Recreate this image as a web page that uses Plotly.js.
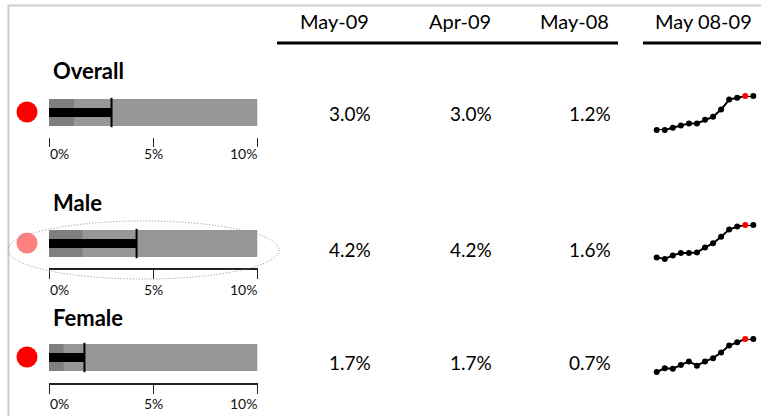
<!DOCTYPE html>
<html>
<head>
<meta charset="utf-8">
<script src="https://cdn.plot.ly/plotly-3.0.1.min.js"></script>
<style>html,body{margin:0;padding:0;background:#fff;}#chart{width:761px;height:416px;}</style>
</head>
<body>
<div id="chart"></div>
<script>
// ---- data ----
const groups = ['Overall', 'Male', 'Female'];
const headers = ['May-09', 'Apr-09', 'May-08', 'May 08-09'];
const may09 = [3.0, 4.2, 1.7];
const apr09 = [3.0, 4.2, 1.7];
const may08 = [1.2, 1.6, 0.7];
const statusColors = ['#ff0000', '#ff8080', '#ff0000'];
const months = ['May-08','Jun-08','Jul-08','Aug-08','Sep-08','Oct-08','Nov-08','Dec-08','Jan-09','Feb-09','Mar-09','Apr-09','May-09'];
const overallTrend = [1.2, 1.2, 1.32, 1.44, 1.55, 1.55, 1.74, 1.90, 2.28, 2.81, 2.91, 3.0, 3.0];
const maleTrend    = [1.6, 1.47, 1.76, 1.95, 1.95, 2.0, 2.4, 2.73, 3.26, 3.83, 4.07, 4.2, 4.2];
const femaleTrend  = [0.7, 0.81, 0.80, 0.91, 1.02, 0.89, 1.02, 1.12, 1.29, 1.50, 1.60, 1.7, 1.7];
const trends = [overallTrend, maleTrend, femaleTrend];
const bulletMax = 10;
const bulletTicks = [0, 5, 10];
const bulletTickLabels = ['0%', '5%', '10%'];
const highlightMonth = 'Apr-09';

// ---- layout geometry (pixels) ----
const W = 761, H = 416;
const px = v => v / W;
const py = v => 1 - v / H;
const FONT = 'Lato, "Noto Sans", sans-serif';

const barTop = [99, 230, 344];
const barBot = [126, 257, 371];
const tickTop = [137, 269, 384];
const tickLabelY = [153, 289, 403];
const titleY = [71, 202, 317];
const numY = [113, 249, 362];
const sparkTop = [96, 225, 339];
const sparkBot = [130, 259, 372];
const showAxisLine = [false, true, true];
const colRight = [373, 494, 613];
const headerRight = [371, 493, 611, 754];

const traces = [];
const layout = {
  width: W, height: H,
  margin: {l: 0, r: 0, t: 0, b: 0},
  paper_bgcolor: '#fff', plot_bgcolor: 'rgba(0,0,0,0)',
  showlegend: false,
  barmode: 'overlay',
  font: {family: FONT, color: '#000'},
  annotations: [],
  shapes: []
};

// status indicator column axis
layout.xaxis7 = {domain: [px(16), px(38)], range: [-1, 1], anchor: 'y', visible: false, fixedrange: true};

groups.forEach((g, i) => {
  const n = i + 1;
  const xa = n === 1 ? 'x' : 'x' + n;
  const ya = n === 1 ? 'y' : 'y' + n;
  const xKey = n === 1 ? 'xaxis' : 'xaxis' + n;
  const yKey = n === 1 ? 'yaxis' : 'yaxis' + n;
  // background qualitative range
  traces.push({type: 'bar', orientation: 'h', x: [bulletMax], y: [0], width: 1, xaxis: xa, yaxis: ya,
    marker: {color: '#979797', line: {width: 0}}, hoverinfo: 'skip'});
  // last-year band
  traces.push({type: 'bar', orientation: 'h', x: [may08[i]], y: [0], width: 1, xaxis: xa, yaxis: ya,
    marker: {color: '#7f7f7f', line: {width: 0}}, hoverinfo: 'skip'});
  // current measure
  traces.push({type: 'bar', orientation: 'h', x: [may09[i]], y: [0], width: 0.34, xaxis: xa, yaxis: ya,
    marker: {color: '#000', line: {width: 0}}, hoverinfo: 'skip'});
  // target (previous month)
  traces.push({type: 'scatter', mode: 'markers', x: [apr09[i]], y: [0], xaxis: xa, yaxis: ya, cliponaxis: false,
    marker: {symbol: 'line-ns', size: 21, line: {width: 2, color: '#000'}}, hoverinfo: 'skip'});
  // status indicator
  traces.push({type: 'scatter', mode: 'markers', x: [0], y: [0.02], xaxis: 'x7', yaxis: ya, cliponaxis: false,
    marker: {symbol: 'circle', size: 21, color: statusColors[i], line: {width: 0}}, hoverinfo: 'skip'});

  layout[xKey] = {domain: [px(49), px(257.5)], range: [0, bulletMax], anchor: 'free', position: py(tickTop[i]),
    tickvals: bulletTicks, ticks: 'outside', ticklen: 9, tickwidth: 1, tickcolor: '#222',
    showticklabels: false, showgrid: false, zeroline: false,
    showline: showAxisLine[i], linecolor: '#222', linewidth: 2, fixedrange: true};
  layout[yKey] = {domain: [py(barBot[i]), py(barTop[i])], range: [-0.5, 0.5], anchor: xa,
    visible: false, fixedrange: true};

  bulletTicks.forEach((t, k) => {
    layout.annotations.push({xref: xa, yref: 'paper', x: t, y: py(tickLabelY[i]),
      xanchor: k === 0 ? 'left' : (k === bulletTicks.length - 1 ? 'right' : 'center'), yanchor: 'middle',
      text: bulletTickLabels[k], showarrow: false, font: {size: 14, color: '#111', family: FONT}, xshift: k === 0 ? -1 : (k === bulletTicks.length - 1 ? 1 : 0)});
  });

  // group title
  layout.annotations.push({xref: 'paper', yref: 'paper', x: px(51), y: py(titleY[i]), xanchor: 'left', yanchor: 'middle',
    text: '<b>' + g + '</b>', showarrow: false, font: {size: 22, color: '#000', family: FONT}});

  // numbers
  [may09[i], apr09[i], may08[i]].forEach((v, c) => {
    layout.annotations.push({xref: 'paper', yref: 'paper', x: px(colRight[c]), y: py(numY[i]), xanchor: 'right', yanchor: 'middle',
      text: v.toFixed(1) + '%', showarrow: false, font: {size: 19, color: '#000', family: FONT}});
  });

  // sparkline
  const sn = n + 3;
  const sxa = 'x' + sn, sya = 'y' + sn;
  const tr = trends[i];
  traces.push({type: 'scatter', mode: 'lines+markers', x: months, y: tr, xaxis: sxa, yaxis: sya, cliponaxis: false,
    line: {color: '#000', width: 2},
    marker: {size: 6, color: months.map(m => m === highlightMonth ? '#ff0000' : '#000')}, hoverinfo: 'skip'});
  layout['xaxis' + sn] = {domain: [px(656.7), px(753.3)], range: [0, months.length - 1], type: 'category',
    anchor: sya, visible: false, fixedrange: true};
  layout['yaxis' + sn] = {domain: [py(sparkBot[i]), py(sparkTop[i])], range: [Math.min(...tr), Math.max(...tr)],
    anchor: sxa, visible: false, fixedrange: true};
});

// headers
headers.forEach((h, c) => {
  layout.annotations.push({xref: 'paper', yref: 'paper', x: px(headerRight[c]), y: py(21), xanchor: 'right', yanchor: 'middle',
    text: h, showarrow: false, font: {size: 20, color: '#000', family: FONT}});
});

// decorations
layout.shapes.push(
  {type: 'line', xref: 'paper', yref: 'paper', x0: px(8.5), x1: px(8.5), y0: 0, y1: py(5.5), line: {color: '#cccccc', width: 2}},
  {type: 'line', xref: 'paper', yref: 'paper', x0: px(7.5), x1: 1, y0: py(5.5), y1: py(5.5), line: {color: '#cccccc', width: 2}},
  {type: 'line', xref: 'paper', yref: 'paper', x0: px(277), x1: px(618), y0: py(43), y1: py(43), line: {color: '#000', width: 3}},
  {type: 'line', xref: 'paper', yref: 'paper', x0: px(643), x1: 1, y0: py(43), y1: py(43), line: {color: '#000', width: 3}},
  {type: 'circle', xref: 'paper', yref: 'paper', x0: px(8), x1: px(279), y0: py(279), y1: py(221), line: {color: '#8a8a8a', width: 1, dash: '1px,2px'}}
);

Plotly.newPlot('chart', traces, layout, {displayModeBar: false, staticPlot: true});
</script>
</body>
</html>
